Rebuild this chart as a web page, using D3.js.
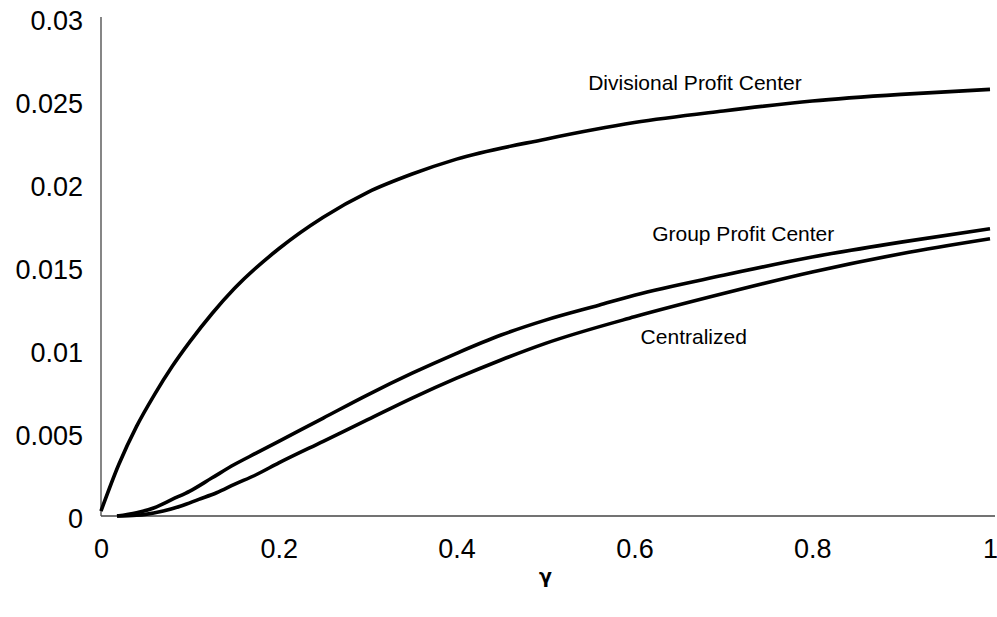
<!DOCTYPE html>
<html>
<head>
<meta charset="utf-8">
<script src="https://cdn.jsdelivr.net/npm/d3@7"></script>
<style>
  html, body { margin: 0; padding: 0; background: #fff; }
  svg { display: block; font-family: "Liberation Sans", Arial, sans-serif; }
</style>
</head>
<body>
<svg id="chart" width="997" height="617"></svg>
<script>
// γ values and profit for each organisational form
const divGamma   = [0, 0.02, 0.04, 0.06, 0.08, 0.1, 0.125, 0.15, 0.2, 0.25, 0.3, 0.35, 0.4, 0.5, 0.6, 0.7, 0.8, 0.9, 1.0];
const divValues  = [0.0003, 0.0031, 0.0054, 0.0073, 0.0090, 0.0105, 0.0122, 0.0137, 0.0161, 0.0180, 0.0195, 0.0206, 0.0215, 0.0227, 0.0237, 0.0244, 0.0250, 0.0254, 0.0257];

const grpGamma   = [0.018, 0.04, 0.06, 0.08, 0.1, 0.125, 0.15, 0.175, 0.2, 0.25, 0.3, 0.35, 0.4, 0.45, 0.5, 0.56, 0.6, 0.7, 0.8, 0.9, 1.0];
const grpValues  = [0, 0.0002, 0.0005, 0.0010, 0.0015, 0.0023, 0.0031, 0.0038, 0.0045, 0.0059, 0.0073, 0.0086, 0.0098, 0.0109, 0.0118, 0.0127, 0.0133, 0.0145, 0.0156, 0.0165, 0.0173];

const cenGamma   = [0.018, 0.04, 0.05, 0.07, 0.09, 0.11, 0.13, 0.15, 0.175, 0.2, 0.25, 0.3, 0.35, 0.4, 0.45, 0.5, 0.6, 0.7, 0.8, 0.9, 1.0];
const cenValues  = [0, 0.00005, 0.0001, 0.0003, 0.0006, 0.0010, 0.0014, 0.0019, 0.0025, 0.0032, 0.0045, 0.0058, 0.0071, 0.0083, 0.0094, 0.0104, 0.0120, 0.0134, 0.0147, 0.0158, 0.0167];

const xTicks = [0, 0.2, 0.4, 0.6, 0.8, 1];
const yTicks = [0, 0.005, 0.01, 0.015, 0.02, 0.025, 0.03];

const seriesNames = ["Divisional Profit Center", "Group Profit Center", "Centralized"];
// label anchors in data units (γ, profit) for the curve names
const labelGamma  = [0.548, 0.620, 0.607];
const labelValue  = [0.02566, 0.01657, 0.01036];

const svg = d3.select("#chart");

const x = d3.scaleLinear().domain([0, 1]).range([101, 990]);
const y = d3.scaleLinear().domain([0, 0.03]).range([516, 18]);

// axes
const xAxis = d3.axisBottom(x).tickValues(xTicks).tickSize(0).tickPadding(0)
  .tickFormat(d => d3.format("")(d));
const yAxis = d3.axisLeft(y).tickValues(yTicks).tickSize(0).tickPadding(0)
  .tickFormat(d => d3.format("")(d));

const gx = svg.append("g").attr("transform", `translate(0,${y(0)})`).call(xAxis);
gx.select(".domain").remove();
gx.selectAll("text")
  .attr("y", 42).attr("dy", null)
  .attr("font-size", 27).attr("fill", "#000")
  .attr("font-family", "Liberation Sans, Arial, sans-serif");

const gy = svg.append("g").attr("transform", `translate(${x(0)},0)`).call(yAxis);
gy.select(".domain").remove();
gy.selectAll("text")
  .attr("x", -18).attr("dy", null).attr("y", 11)
  .attr("font-size", 27).attr("fill", "#000")
  .attr("font-family", "Liberation Sans, Arial, sans-serif");

// axis lines
svg.append("line")
  .attr("x1", x(0)).attr("x2", x(0))
  .attr("y1", y(0.03) - 1).attr("y2", y(0))
  .attr("stroke", "#444").attr("stroke-width", 1.3);
svg.append("line")
  .attr("x1", x(0)).attr("x2", x(1) + 5)
  .attr("y1", y(0)).attr("y2", y(0))
  .attr("stroke", "#444").attr("stroke-width", 1.6);

// curves
const line = d3.line()
  .x(d => x(d[0]))
  .y(d => y(d[1]))
  .curve(d3.curveMonotoneX);

const series = [
  d3.zip(divGamma, divValues),
  d3.zip(grpGamma, grpValues),
  d3.zip(cenGamma, cenValues)
];

svg.append("g").selectAll("path")
  .data(series)
  .join("path")
  .attr("d", line)
  .attr("fill", "none")
  .attr("stroke", "#000")
  .attr("stroke-width", 3.6)
  .attr("stroke-linejoin", "round")
  .attr("stroke-linecap", "butt");

// curve names
svg.append("g").selectAll("text")
  .data(seriesNames)
  .join("text")
  .attr("x", (d, i) => x(labelGamma[i]))
  .attr("y", (d, i) => y(labelValue[i]))
  .attr("font-size", 21)
  .attr("fill", "#000")
  .text(d => d);

// x-axis title
svg.append("text")
  .attr("x", x(0.5))
  .attr("y", 583)
  .attr("text-anchor", "middle")
  .attr("font-size", 19)
  .attr("font-weight", "bold")
  .attr("font-family", "DejaVu Sans, sans-serif")
  .text("γ");
</script>
</body>
</html>
